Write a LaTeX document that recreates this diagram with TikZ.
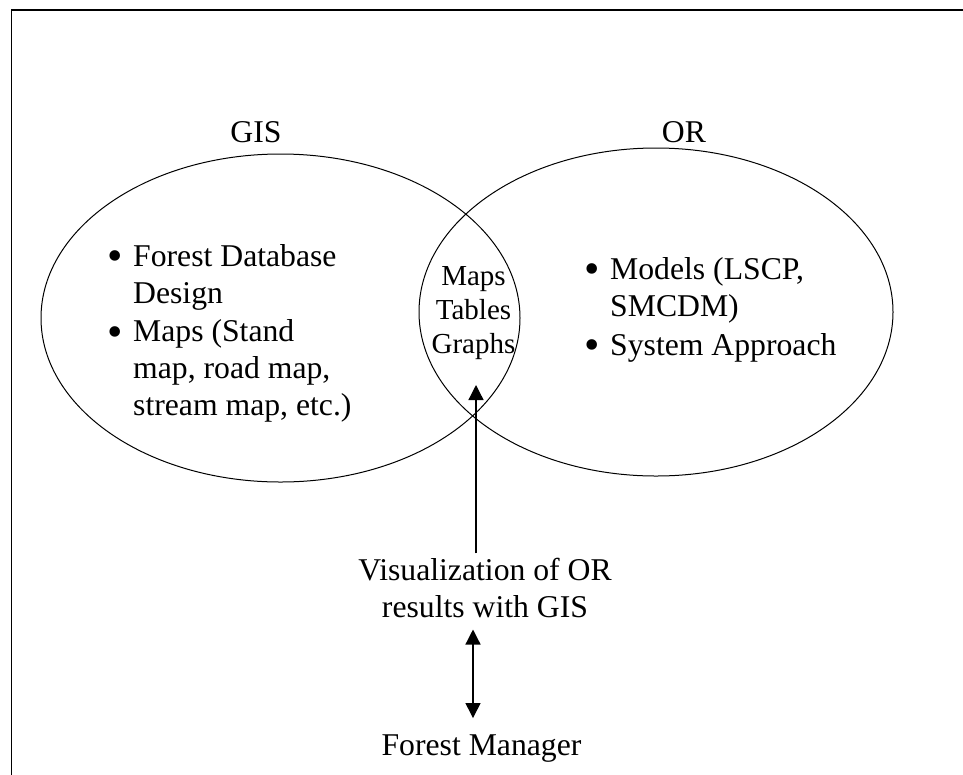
\documentclass[tikz,border=0pt]{standalone}
\usepackage{fontspec}
\setmainfont{Liberation Serif}
\usetikzlibrary{shapes.geometric,arrows.meta}

\tikzset{
  frameline/.style={line width=1.8pt, line cap=rect},
  setcircle/.style={draw, ellipse, line width=1pt, inner sep=0pt},
  bigtext/.style={font=\fontsize{31.7}{37}\selectfont, inner sep=0pt},
  listtext/.style={bigtext, align=left, anchor=base west},
  bulletmark/.style={font=\fontsize{44}{44}\selectfont, inner sep=0pt, anchor=base west, yshift=-4pt},
  centertext/.style={bigtext, align=center},
  smalltext/.style={font=\fontsize{29}{34}\selectfont, inner sep=0pt, align=center},
  link/.style={line width=1.3pt, -{Triangle[length=15pt,width=15pt]}},
  twoway/.style={line width=1.3pt, {Triangle[length=15pt,width=15pt]}-{Triangle[length=15pt,width=15pt]}}
}

\begin{document}
\begin{tikzpicture}[x=1pt,y=-1pt]
  \useasboundingbox (0,0) rectangle (963,774);
  \clip (0,0) rectangle (963,774);

  % open frame: left and top edges only
  \draw[frameline] (11.5,780) -- (11.5,10) -- (970,10);

  % the two overlapping sets
  \node[setcircle, minimum width=479pt, minimum height=328pt] (gis) at (280.5,318) {};
  \node[setcircle, minimum width=474pt, minimum height=328pt] (or)  at (656,312) {};

  % set titles
  \node[bigtext, anchor=base] (gislbl) at (256,142) {GIS};
  \node[bigtext, anchor=base] (orlbl)  at (684,142) {OR};

  % GIS contents (multi-line nodes sit on the baseline of their last line)
  \node[bulletmark] (gb1) at (107,266) {•};
  \node[listtext]   (gt1) at (133,303) {Forest Database\\Design};
  \node[bulletmark] (gb2) at (107,342) {•};
  \node[listtext]   (gt2) at (133,415) {Maps (Stand\\map, road map,\\stream map, etc.)};

  % OR contents
  \node[bulletmark] (ob1) at (584,279) {•};
  \node[listtext]   (ot1) at (610,316) {Models (LSCP,\\SMCDM)};
  \node[bulletmark] (ob2) at (584,355) {•};
  \node[listtext]   (ot2) at (610,355) {System Approach};

  % shared outputs in the overlap
  \node[smalltext, anchor=base] (shared) at (473.5,353) {Maps\\Tables\\Graphs};

  % visualization and the manager
  \node[centertext, anchor=base, inner ysep=4pt] (vis) at (485,617) {Visualization of OR\\results with GIS};
  \node[bigtext, anchor=base, inner ysep=4pt] (fm) at (481.5,755) {Forest Manager};

  \coordinate (tip) at (476,385);
  \coordinate (dbl) at (473,0);

  \draw[link] (tip |- vis.north) -- (tip);
  \draw[twoway] ([yshift=-8pt]dbl |- vis.south) -- ([yshift=12pt]dbl |- fm.north);
\end{tikzpicture}
\end{document}
